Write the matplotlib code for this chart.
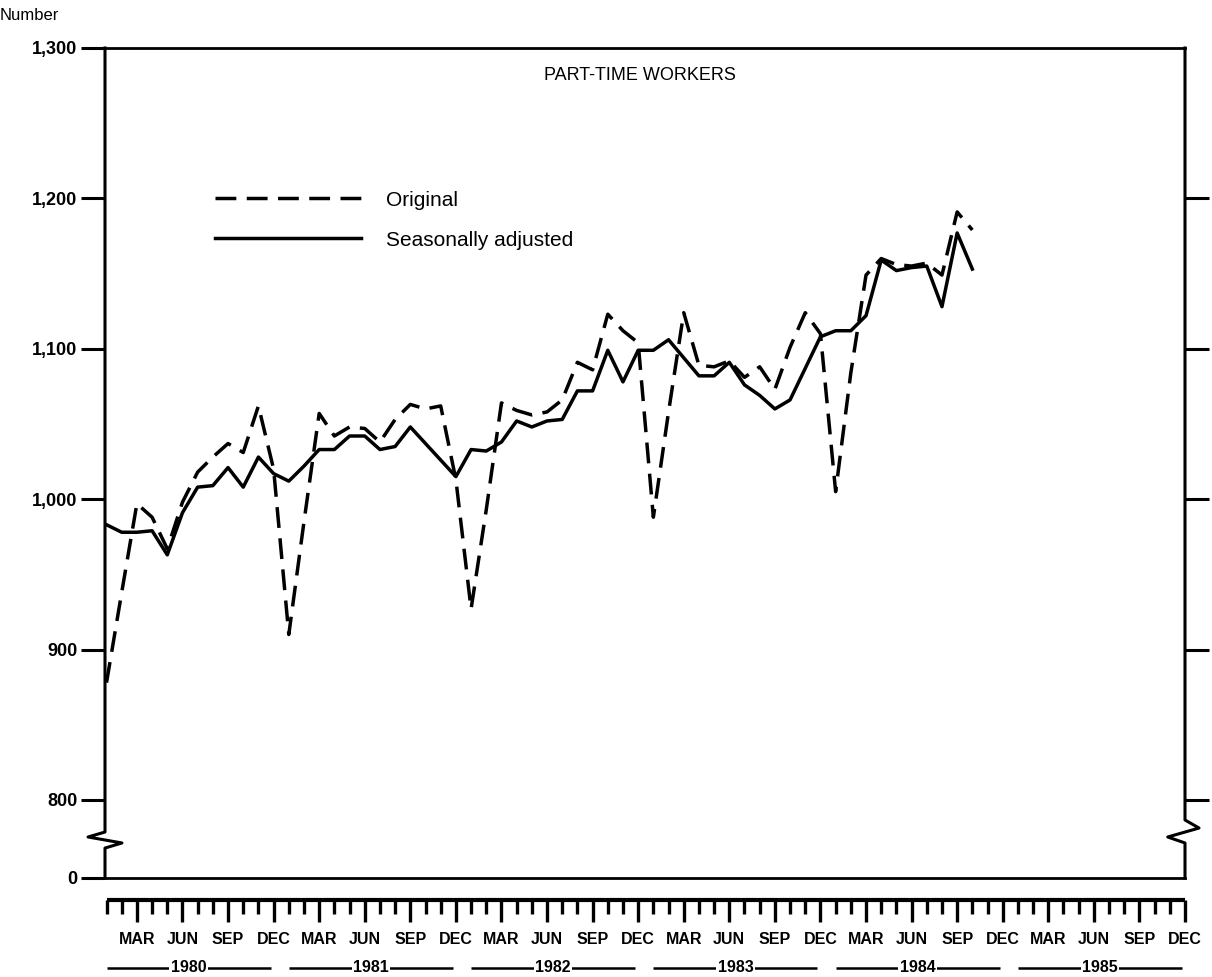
import matplotlib
matplotlib.use("Agg")
import matplotlib.pyplot as plt

plt.rcParams['font.family'] = ['Liberation Sans', 'DejaVu Sans']

# months since Jan 1980 (0 = Jan 1980 ... 57 = Oct 1984)
months = list(range(58))

# Part-time workers, original series (dashed)
original = [878, 938, 997, 988, 967, 998, 1018, 1028, 1037, 1031, 1062, 1020,
            910, 985, 1057, 1042, 1048, 1047, 1038, 1053, 1063, 1060, 1062, 1013,
            927, 993, 1064, 1059, 1056, 1058, 1066, 1091, 1086, 1123, 1112, 1104,
            988, 1058, 1124, 1089, 1088, 1092, 1081, 1088, 1073, 1101, 1124, 1110,
            1005, 1084, 1149, 1160, 1156, 1155, 1157, 1149, 1191, 1179]

# Seasonally adjusted series (solid)
adjusted = [983, 978, 978, 979, 963, 991, 1008, 1009, 1021, 1008, 1028, 1017,
            1012, 1022, 1033, 1033, 1042, 1042, 1033, 1035, 1048, 1037, 1026, 1015,
            1033, 1032, 1038, 1052, 1048, 1052, 1053, 1072, 1072, 1099, 1078, 1099,
            1099, 1106, 1094, 1082, 1082, 1091, 1076, 1069, 1060, 1066, 1087, 1108,
            1112, 1112, 1122, 1159, 1152, 1154, 1155, 1128, 1177, 1153]

years = ['1980', '1981', '1982', '1983', '1984', '1985']
month_labels = ['MAR', 'JUN', 'SEP', 'DEC']
ytick_values = [800, 900, 1000, 1100, 1200, 1300]
ytick_labels = ['800', '900', '1,000', '1,100', '1,200', '1,300']

W, H = 1212, 977
fig = plt.figure(figsize=(W / 100, H / 100), dpi=100)
ax = fig.add_axes([105 / W, 1 - 878 / H, 1080 / W, 830 / H])

# broken axis: the bottom edge stands for zero
y_zero = 748.1
ax.set_ylim(y_zero, 1300)
ax.set_xlim(-0.1, 71)

ax.plot(months, original, color='black', lw=2.5, dashes=(6, 3), label='Original')
ax.plot(months, adjusted, color='black', lw=2.5, label='Seasonally adjusted')

ax.set_yticks([y_zero] + ytick_values)
ax.set_yticklabels(['0'] + ytick_labels, fontsize=13, fontweight='bold')
ax.tick_params(axis='y', direction='out', length=17, width=2.2, pad=3)
ax.set_xticks([])

for s in ['left', 'right']:
    ax.spines[s].set_visible(False)
for s in ['top', 'bottom']:
    ax.spines[s].set_linewidth(2)

# left and right edges with break marks
ax.plot([0, 0, -0.0157, 0.0157, 0, 0], [1, 0.0554, 0.0494, 0.0422, 0.0361, 0],
        transform=ax.transAxes, clip_on=False, color='black', lw=2.2)
ax.plot([1, 1, 1.013, 0.984, 1, 1], [1, 0.0699, 0.0602, 0.0494, 0.0422, 0],
        transform=ax.transAxes, clip_on=False, color='black', lw=2.2)

axr = ax.twinx()
axr.set_ylim(y_zero, 1300)
axr.set_yticks(ytick_values[:-1])
axr.set_yticklabels([])
axr.tick_params(axis='y', direction='out', length=17, width=2.2)
for s in axr.spines.values():
    s.set_visible(False)

ax.text(0.495, 0.967, 'PART-TIME WORKERS', transform=ax.transAxes,
        ha='center', va='center', fontsize=13)
fig.text(0.0, 1 - 15 / H, 'Number', ha='left', va='center', fontsize=12)

ax.legend(loc='upper left', bbox_to_anchor=(0.102, 0.828), frameon=False,
          fontsize=15, handlelength=7.0, handletextpad=1.2, labelspacing=1.0,
          borderpad=0, borderaxespad=0)

# month ruler under the plot
ax2 = fig.add_axes([105 / W, 0, 1080 / W, 82 / H])
ax2.set_xlim(-0.1, 71)
ax2.set_ylim(0, 82)
ax2.axis('off')
all_months = list(range(72))
ax2.hlines(77, 0, 71, color='black', lw=3, clip_on=False)
short = [m for m in all_months if m % 3 != 2]
long_ = [m for m in all_months if m % 3 == 2]
ax2.vlines(short, 63, 77, color='black', lw=2.4, clip_on=False)
ax2.vlines(long_, 55, 77, color='black', lw=2.4, clip_on=False)
for m in long_:
    ax2.text(m, 37, month_labels[(m // 3) % 4], ha='center', va='center',
             fontsize=11.5, fontweight='bold')
for i, yr in enumerate(years):
    ax2.hlines(9, 12 * i, 12 * i + 10.8, color='black', lw=1.8)
    ax2.text(12 * i + 5.4, 9, yr, ha='center', va='center', fontsize=11.5,
             fontweight='bold', bbox=dict(facecolor='white', edgecolor='none', pad=1))

fig.savefig('out.png', dpi=100)
